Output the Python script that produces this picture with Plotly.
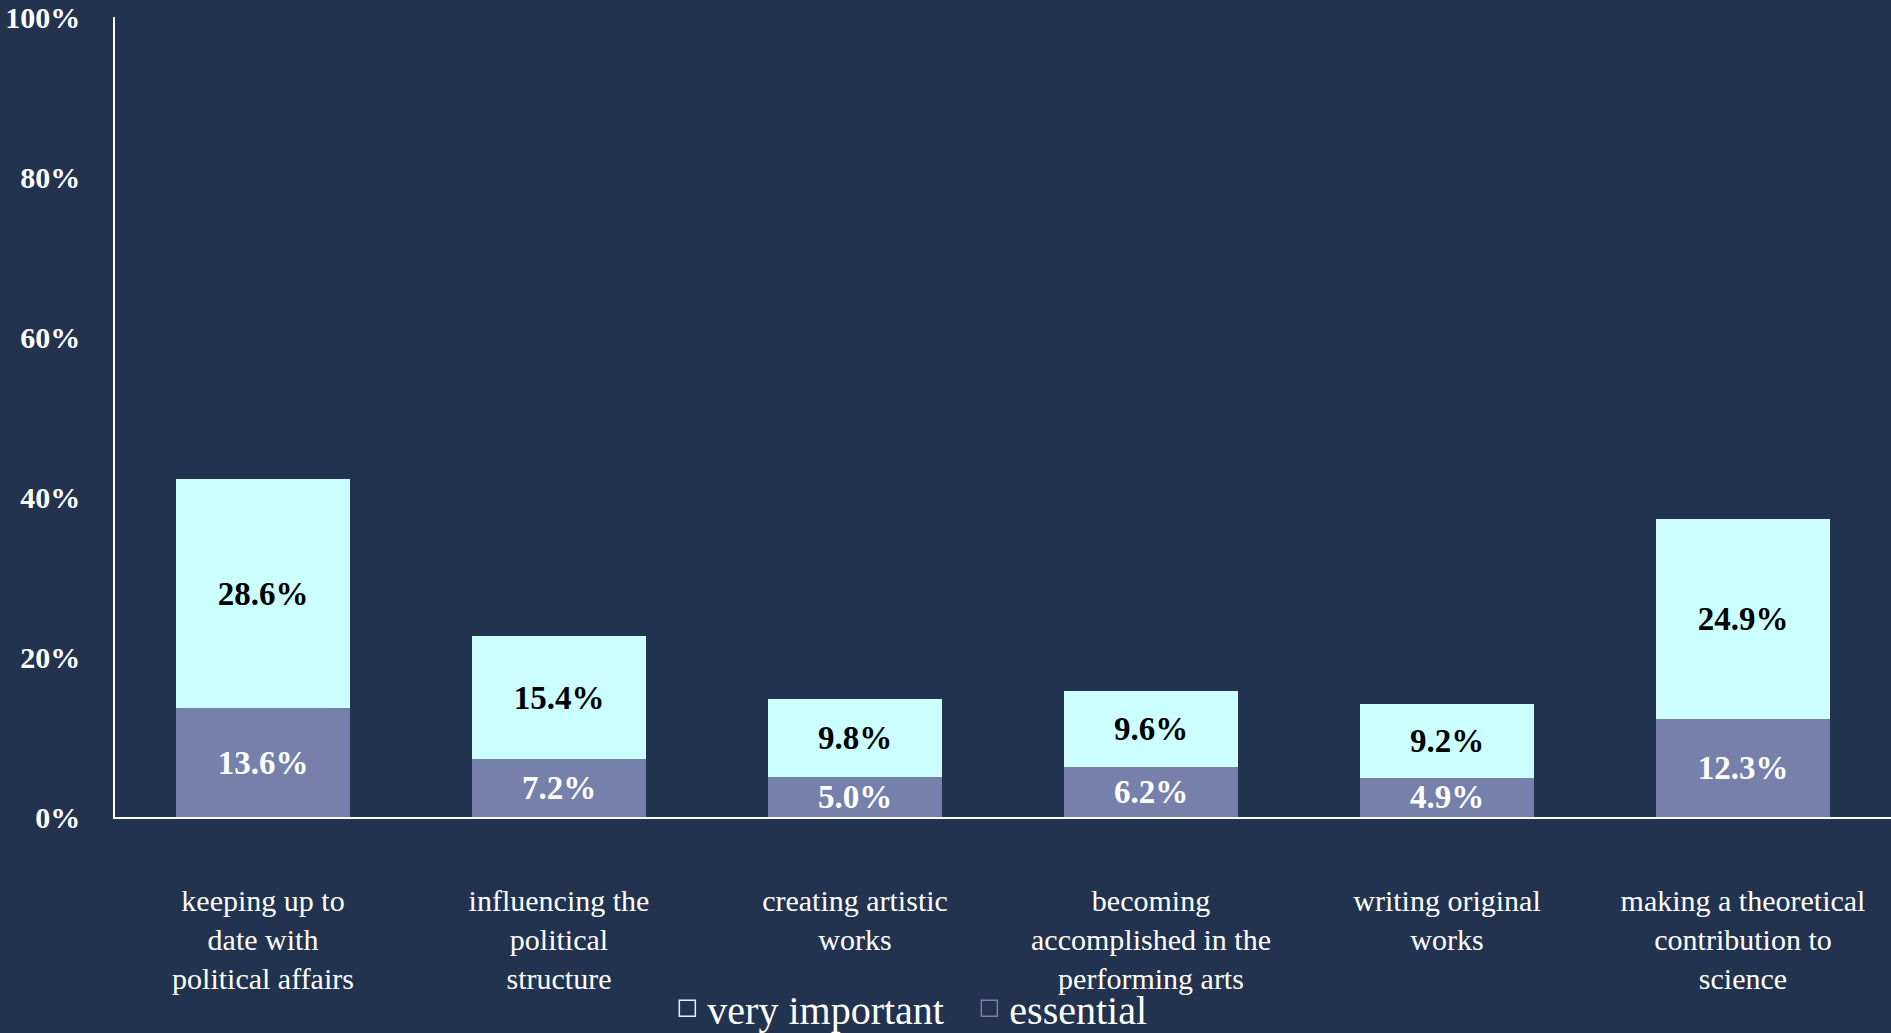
import plotly.graph_objects as go

categories = [
    "keeping up to<br>date with<br>political affairs",
    "influencing the<br>political<br>structure",
    "creating artistic<br>works",
    "becoming<br>accomplished in the<br>performing arts",
    "writing original<br>works",
    "making a theoretical<br>contribution to<br>science",
]
essential = [13.6, 7.2, 5.0, 6.2, 4.9, 12.3]
very_important = [28.6, 15.4, 9.8, 9.6, 9.2, 24.9]
y_ticks = [0, 20, 40, 60, 80, 100]
y_tick_labels = ["0%", "20%", "40%", "60%", "80%", "100%"]

BG = "#223350"
CYAN = "#CCFFFF"
PURPLE = "#7580AB"
FONT = "Liberation Serif, serif"

fig = go.Figure()
fig.add_trace(go.Bar(
    x=categories, y=essential, name="essential", showlegend=False,
    marker=dict(color=PURPLE, line=dict(width=0)),
    text=[f"{v:.1f}%" for v in essential], textposition="inside",
    insidetextanchor="middle", constraintext="none",
    textfont=dict(family=FONT, size=33, color="white", weight="bold"),
))
fig.add_trace(go.Bar(
    x=categories, y=very_important, name="very important", showlegend=False,
    marker=dict(color=CYAN, line=dict(width=0)),
    text=[f"{v:.1f}%" for v in very_important], textposition="inside",
    insidetextanchor="middle", constraintext="none",
    textfont=dict(family=FONT, size=33, color="black", weight="bold"),
))
# legend entries (open squares)
fig.add_trace(go.Scatter(x=[None], y=[None], mode="markers", name="very important",
                         marker=dict(symbol="square-open", size=24, color=CYAN, line=dict(width=1.5, color=CYAN))))
fig.add_trace(go.Scatter(x=[None], y=[None], mode="markers", name="essential",
                         marker=dict(symbol="square-open", size=24, color=PURPLE, line=dict(width=1.5, color=PURPLE))))

fig.update_layout(
    width=1891, height=1033,
    barmode="stack", bargap=0.41,
    paper_bgcolor=BG, plot_bgcolor=BG,
    margin=dict(l=115, r=0, t=17, b=216, autoexpand=False),
    font=dict(family=FONT, color="white"),
    legend=dict(orientation="h", traceorder="normal",
                xref="paper", x=0.311, xanchor="left",
                yref="container", y=0.024, yanchor="middle",
                font=dict(family=FONT, size=40, color="white"),
                bgcolor="rgba(0,0,0,0)", itemwidth=30, tracegroupgap=0, entrywidth=257),
    xaxis=dict(showline=True, linecolor="white", linewidth=1.5, showgrid=False,
               ticks="", tickfont=dict(family=FONT, size=30, color="white"),
               ticklabelstandoff=56, zeroline=False, automargin=False),
    yaxis=dict(range=[0, 100], tickvals=y_ticks, ticktext=y_tick_labels,
               showline=True, linecolor="white", linewidth=1.5, showgrid=False,
               zeroline=False, ticks="", ticklabelstandoff=27, automargin=False,
               tickfont=dict(family=FONT, size=30, color="white", weight="bold")),
)

fig.write_html(
    "out.html",
    config={"displayModeBar": False},
    post_script="document.body.style.margin='0';document.body.style.overflow='hidden';",
)
